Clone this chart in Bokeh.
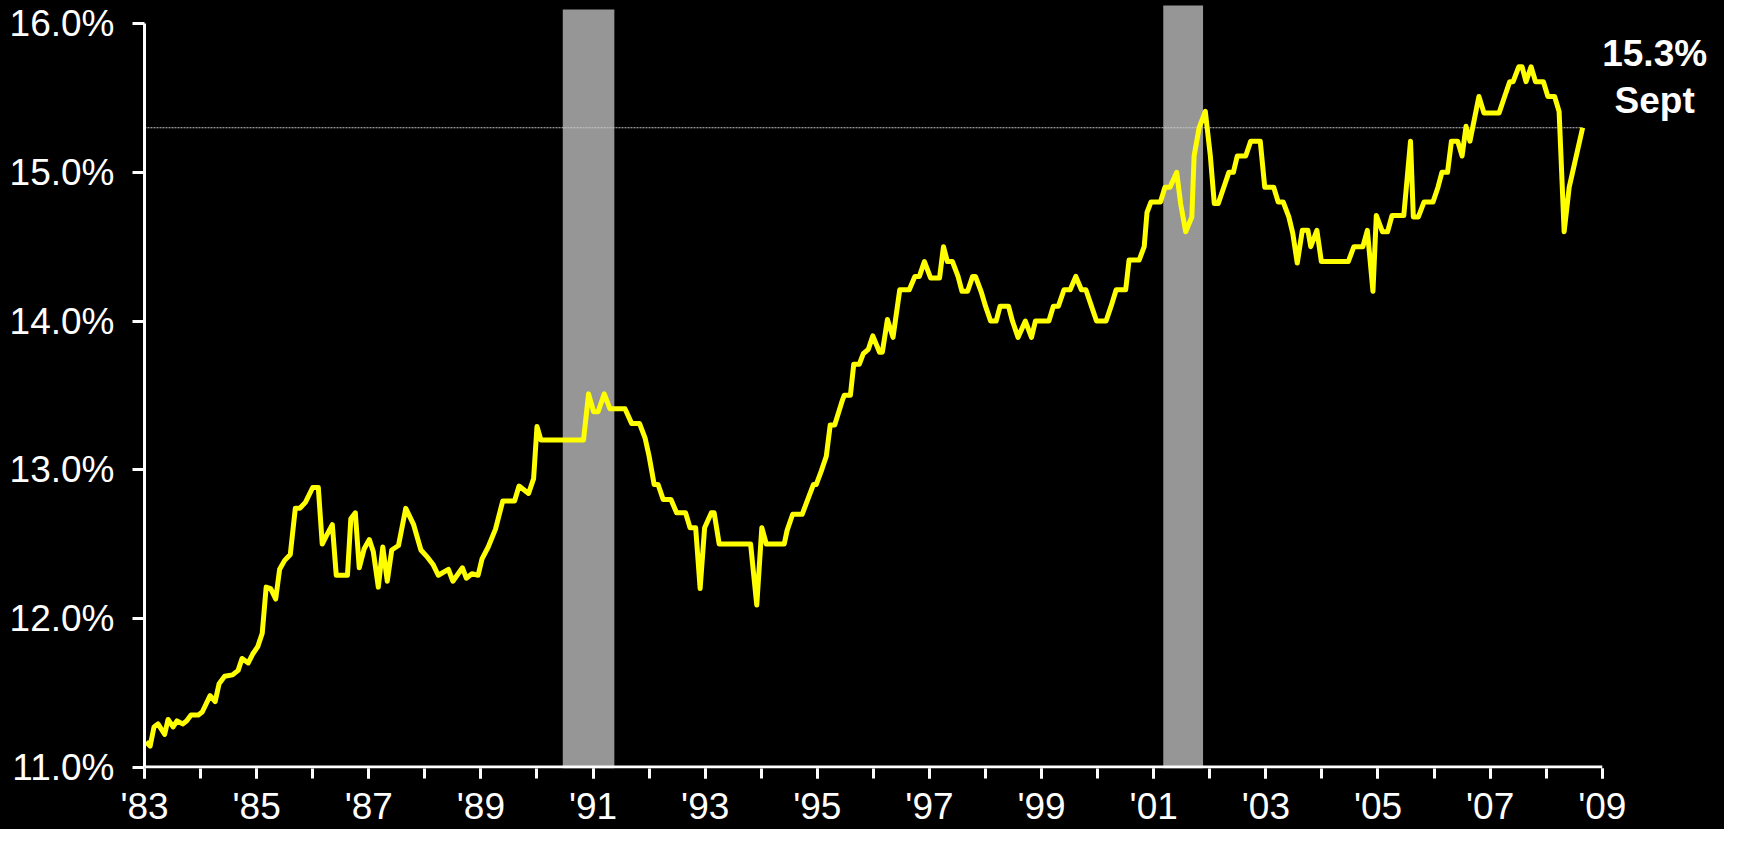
from bokeh.plotting import figure
from bokeh.models import FixedTicker, Range1d, Label, ColumnDataSource
from bokeh.embed import file_html
from bokeh.resources import INLINE

# ---------------- data ----------------
dates = [
    1983.03, 1983.10, 1983.17, 1983.24, 1983.36, 1983.42, 1983.51, 1983.58, 1983.68, 1983.75,
    1983.83, 1983.96, 1984.03, 1984.17, 1984.26, 1984.33, 1984.43, 1984.57, 1984.67, 1984.74,
    1984.85, 1984.93, 1985.02, 1985.10, 1985.17, 1985.25, 1985.34, 1985.41, 1985.50, 1985.60,
    1985.69, 1985.77, 1985.87, 1986.00, 1986.10, 1986.17, 1986.25, 1986.35, 1986.42, 1986.62,
    1986.68, 1986.76, 1986.83, 1986.92, 1987.01, 1987.08, 1987.17, 1987.25, 1987.33, 1987.41,
    1987.53, 1987.66, 1987.80, 1987.93, 1988.05, 1988.15, 1988.24, 1988.42, 1988.50, 1988.67,
    1988.74, 1988.84, 1988.95, 1989.02, 1989.13, 1989.26, 1989.39, 1989.60, 1989.68, 1989.85,
    1989.94, 1990.00, 1990.07, 1990.83, 1990.92, 1991.01, 1991.09, 1991.20, 1991.30, 1991.57,
    1991.69, 1991.83, 1991.93, 1992.00, 1992.09, 1992.16, 1992.25, 1992.39, 1992.49, 1992.65,
    1992.73, 1992.83, 1992.91, 1992.99, 1993.11, 1993.16, 1993.25, 1993.81, 1993.92, 1994.01,
    1994.09, 1994.41, 1994.46, 1994.56, 1994.73, 1994.83, 1994.93, 1994.98, 1995.07, 1995.16,
    1995.23, 1995.31, 1995.45, 1995.48, 1995.59, 1995.65, 1995.75, 1995.82, 1995.91, 1995.99,
    1996.11, 1996.16, 1996.25, 1996.35, 1996.47, 1996.64, 1996.74, 1996.82, 1996.91, 1997.02,
    1997.18, 1997.25, 1997.32, 1997.41, 1997.51, 1997.58, 1997.68, 1997.77, 1997.82, 1997.92,
    1998.00, 1998.09, 1998.19, 1998.26, 1998.41, 1998.48, 1998.58, 1998.71, 1998.82, 1998.89,
    1999.13, 1999.21, 1999.30, 1999.40, 1999.51, 1999.61, 1999.71, 1999.79, 1999.88, 1999.98,
    2000.15, 2000.24, 2000.33, 2000.50, 2000.56, 2000.74, 2000.83, 2000.88, 2000.95, 2001.12,
    2001.20, 2001.29, 2001.41, 2001.48, 2001.57, 2001.68, 2001.72, 2001.81, 2001.92, 2002.01,
    2002.08, 2002.15, 2002.25, 2002.34, 2002.42, 2002.49, 2002.64, 2002.73, 2002.90, 2002.98,
    2003.14, 2003.22, 2003.31, 2003.41, 2003.48, 2003.56, 2003.65, 2003.75, 2003.80, 2003.91,
    2003.99, 2004.47, 2004.57, 2004.73, 2004.81, 2004.91, 2004.97, 2005.08, 2005.17, 2005.25,
    2005.46, 2005.58, 2005.63, 2005.72, 2005.82, 2005.98, 2006.07, 2006.14, 2006.24, 2006.31,
    2006.42, 2006.50, 2006.57, 2006.64, 2006.80, 2006.89, 2007.16, 2007.25, 2007.35, 2007.41,
    2007.51, 2007.57, 2007.64, 2007.73, 2007.81, 2007.95, 2008.03, 2008.15, 2008.23, 2008.32,
    2008.41, 2008.47, 2008.65,
]
share = [
    11.17, 11.14, 11.27, 11.29, 11.22, 11.32, 11.27, 11.31, 11.29, 11.31,
    11.35, 11.35, 11.37, 11.48, 11.44, 11.56, 11.61, 11.62, 11.65, 11.73,
    11.70, 11.76, 11.81, 11.90, 12.21, 12.20, 12.13, 12.33, 12.39, 12.43,
    12.74, 12.74, 12.78, 12.88, 12.88, 12.50, 12.56, 12.63, 12.29, 12.29,
    12.67, 12.71, 12.34, 12.47, 12.53, 12.45, 12.21, 12.48, 12.25, 12.46,
    12.49, 12.74, 12.63, 12.46, 12.41, 12.36, 12.29, 12.33, 12.25, 12.34,
    12.27, 12.30, 12.29, 12.40, 12.48, 12.60, 12.79, 12.79, 12.89, 12.84,
    12.94, 13.29, 13.20, 13.20, 13.51, 13.39, 13.39, 13.51, 13.41, 13.41,
    13.31, 13.31, 13.21, 13.09, 12.90, 12.90, 12.80, 12.80, 12.71, 12.71,
    12.61, 12.61, 12.20, 12.61, 12.71, 12.71, 12.50, 12.50, 12.09, 12.61,
    12.50, 12.50, 12.59, 12.70, 12.70, 12.80, 12.90, 12.90, 12.99, 13.09,
    13.30, 13.30, 13.47, 13.50, 13.50, 13.71, 13.71, 13.78, 13.81, 13.90,
    13.79, 13.79, 14.01, 13.89, 14.21, 14.21, 14.30, 14.30, 14.40, 14.29,
    14.29, 14.50, 14.40, 14.40, 14.30, 14.20, 14.20, 14.30, 14.30, 14.20,
    14.10, 14.00, 14.00, 14.10, 14.10, 14.00, 13.89, 14.00, 13.89, 14.00,
    14.00, 14.10, 14.10, 14.21, 14.21, 14.30, 14.21, 14.21, 14.11, 14.00,
    14.00, 14.10, 14.21, 14.21, 14.41, 14.41, 14.50, 14.73, 14.80, 14.80,
    14.90, 14.90, 15.00, 14.79, 14.60, 14.70, 15.11, 15.30, 15.41, 15.11,
    14.79, 14.79, 14.90, 15.00, 15.00, 15.11, 15.11, 15.21, 15.21, 14.90,
    14.90, 14.80, 14.80, 14.70, 14.59, 14.39, 14.61, 14.61, 14.50, 14.61,
    14.40, 14.40, 14.50, 14.50, 14.61, 14.20, 14.71, 14.60, 14.60, 14.71,
    14.71, 15.21, 14.70, 14.70, 14.80, 14.80, 14.90, 15.00, 15.00, 15.21,
    15.21, 15.11, 15.31, 15.21, 15.51, 15.40, 15.40, 15.50, 15.61, 15.61,
    15.71, 15.71, 15.61, 15.71, 15.61, 15.61, 15.51, 15.51, 15.41, 14.60,
    14.90, 15.00, 15.30,
]

recession_start = [1990.46, 2001.17]
recession_end = [1991.38, 2001.88]
recession_top = [16.096, 16.123]

y_ticks = [11, 12, 13, 14, 15, 16]
y_tick_labels = ["11.0%", "12.0%", "13.0%", "14.0%", "15.0%", "16.0%"]
x_label_years = [1983, 1985, 1987, 1989, 1991, 1993, 1995, 1997, 1999, 2001, 2003, 2005, 2007, 2009]
x_tick_labels = ["'83", "'85", "'87", "'89", "'91", "'93", "'95", "'97", "'99", "'01", "'03", "'05", "'07", "'09"]
x_all_years = list(range(1983, 2010))

latest_value = 15.3
latest_label = "15.3%"
latest_month = "Sept"

FONT = "Liberation Sans"

# ---------------- figure ----------------
p = figure(
    width=1724, height=829,
    output_backend="svg", toolbar_location=None,
    x_range=Range1d(1983.0, 2011.18), y_range=Range1d(10.99, 16.156),
    min_border_left=144, min_border_right=0, min_border_top=0, min_border_bottom=58,
    background_fill_color="black", border_fill_color=None,
    outline_line_color=None,
)
p.styles = {"background-color": "#000000"}
p.grid.visible = False

# recession bars
rec_src = ColumnDataSource(dict(left=recession_start, right=recession_end,
                                top=recession_top, bottom=[10.99] * len(recession_start)))
p.quad(left="left", right="right", top="top", bottom="bottom", source=rec_src,
       fill_color="#969696", line_color=None)

# x axis rule
p.line(x=[x_all_years[0], x_all_years[-1]], y=[y_ticks[0], y_ticks[0]],
       line_color="white", line_width=3)

# reference line at latest value
p.line(x=[x_all_years[0], dates[-1]], y=[latest_value, latest_value],
       line_color="#c8c8c8", line_width=1, line_dash="2 1")

# main series
p.line(x=dates, y=share, line_color="#FFFF00", line_width=5, line_join="round")

# annotation
p.add_layout(Label(x=dates[-1], y=share[-1], x_offset=72, y_offset=74.5,
                   text=latest_label, text_align="center", text_baseline="alphabetic",
                   text_font=FONT, text_font_size="37px", text_font_style="bold",
                   text_color="white"))
p.add_layout(Label(x=dates[-1], y=share[-1], x_offset=72, y_offset=27.5,
                   text=latest_month, text_align="center", text_baseline="alphabetic",
                   text_font=FONT, text_font_size="37px", text_font_style="bold",
                   text_color="white"))

# axes
for ax in (p.xaxis[0], p.yaxis[0]):
    ax.axis_line_color = "white"
    ax.axis_line_width = 3
    ax.major_tick_line_color = "white"
    ax.major_tick_line_width = 3
    ax.major_tick_in = 0
    ax.major_label_text_color = "white"
    ax.major_label_text_font = FONT
    ax.major_label_text_font_size = "37px"

p.yaxis.ticker = FixedTicker(ticks=y_ticks)
p.yaxis.major_label_overrides = {t: l for t, l in zip(y_ticks, y_tick_labels)}
p.yaxis.major_tick_out = 12
p.yaxis.minor_tick_line_color = None
p.yaxis.bounds = (y_ticks[0], y_ticks[-1])
p.yaxis.major_label_standoff = 18

p.xaxis.axis_line_color = None
p.xaxis.ticker = FixedTicker(ticks=x_label_years, minor_ticks=x_all_years)
p.xaxis.major_label_overrides = {t: l for t, l in zip(x_label_years, x_tick_labels)}
p.xaxis.major_tick_out = 10
p.xaxis.minor_tick_out = 10
p.xaxis.minor_tick_in = 0
p.xaxis.minor_tick_line_color = "white"
p.xaxis.minor_tick_line_width = 3
p.xaxis.bounds = (x_all_years[0], x_all_years[-1])
p.xaxis.major_label_standoff = 7

open("out.html", "w").write(file_html(p, INLINE))
